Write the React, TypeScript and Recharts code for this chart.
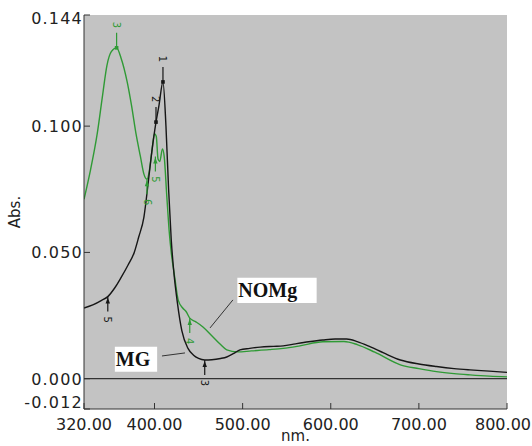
import React from "react";
import {
  ComposedChart,
  Line,
  Scatter,
  XAxis,
  YAxis,
  CartesianGrid,
  ReferenceLine,
  ReferenceArea,
} from "recharts";

document.body.style.margin = "0";

// MG spectrum (black)
const mgNm = [320, 330, 340, 347, 355, 362, 370, 377, 382, 388, 393, 397, 401.7, 405, 409.6, 413, 416, 419, 422, 426, 431, 438, 444, 450, 457, 465, 475, 482, 490, 497, 508, 520, 535, 546, 560, 575, 591, 605, 618, 630, 645, 660, 679, 700, 720, 740, 758, 780, 800];
const mgAbs = [0.028, 0.0292, 0.031, 0.0325, 0.036, 0.04, 0.045, 0.05, 0.056, 0.064, 0.078, 0.09, 0.1016, 0.108, 0.1175, 0.1, 0.075, 0.055, 0.042, 0.03, 0.019, 0.012, 0.0094, 0.008, 0.0074, 0.0075, 0.008, 0.0086, 0.01, 0.0114, 0.012, 0.0125, 0.0128, 0.013, 0.0138, 0.0146, 0.0153, 0.0157, 0.0157, 0.0147, 0.0126, 0.0102, 0.0074, 0.0058, 0.0048, 0.004, 0.0035, 0.003, 0.0025];

// NOMg spectrum (green)
const nomNm = [320, 327, 335, 341, 346, 351, 357, 362, 369, 374, 379, 384, 388, 391.5, 394, 397, 400, 402, 404, 406, 409, 411, 414, 417, 419, 423, 427, 432, 436, 440, 447, 455, 465, 475, 482, 494, 510, 530, 546, 565, 591, 615, 630, 650, 679, 700, 720, 740, 758, 780, 800];
const nomAbs = [0.071, 0.082, 0.097, 0.112, 0.124, 0.1295, 0.131, 0.127, 0.1175, 0.108, 0.097, 0.088, 0.081, 0.079, 0.082, 0.09, 0.097, 0.096, 0.087, 0.086, 0.091, 0.088, 0.072, 0.057, 0.05, 0.04, 0.031, 0.028, 0.0265, 0.024, 0.0225, 0.0205, 0.017, 0.0135, 0.0114, 0.0106, 0.011, 0.0115, 0.012, 0.013, 0.0146, 0.0147, 0.0135, 0.0105, 0.0055, 0.004, 0.0028, 0.002, 0.0015, 0.001, 0.0007];

// peak pick markers
const mgMarkNm = [409.6, 401.7, 347, 457];
const mgMarkAbs = [0.1175, 0.1016, 0.0325, 0.0074];
const mgMarkTag = ["1", "2", "5", "3"];
const mgMarkSide = ["up", "up", "down", "down"];

const nomMarkNm = [357, 391.5, 401, 440];
const nomMarkAbs = [0.131, 0.079, 0.088, 0.024];
const nomMarkTag = ["3", "6", "5", "4"];
const nomMarkSide = ["up", "down", "down", "down"];

const xTicks = [320, 400, 500, 600, 700, 800];
const yTicks = [-0.012, 0, 0.05, 0.1, 0.144];

const mgRows = mgNm.map((nm, i) => ({ nm, abs: mgAbs[i] }));
const nomRows = nomNm.map((nm, i) => ({ nm, abs: nomAbs[i] }));
const mgMarks = mgMarkNm.map((nm, i) => ({ nm, abs: mgMarkAbs[i], tag: mgMarkTag[i], side: mgMarkSide[i] }));
const nomMarks = nomMarkNm.map((nm, i) => ({ nm, abs: nomMarkAbs[i], tag: nomMarkTag[i], side: nomMarkSide[i] }));

const BLACK = "#161616";
const GREEN = "#2f9a35";
const FONT = "DejaVu Sans";

function XTick({ x, y, payload }: any) {
  const v = payload.value;
  const shift = v === 800 ? -4 : 0;
  return (
    <text x={x + shift} y={y} dy={21} textAnchor="middle" fontFamily={FONT} fontSize={16} fill="#222">
      {v.toFixed(2)}
    </text>
  );
}

function YTick({ x, y, payload }: any) {
  const v = payload.value;
  let dy = 6;
  if (v === 0.144) dy = 9;
  if (v === -0.012) dy = -1;
  return (
    <text x={x} y={y} dy={dy} textAnchor="end" fontFamily={FONT} fontSize={16} letterSpacing={1.2} fill="#222">
      {v.toFixed(3)}
    </text>
  );
}

function makeMarker(color: string) {
  return (p: any) => {
    const { cx, cy, payload } = p;
    const s = payload.side === "up" ? -1 : 1;
    return (
      <g>
        <line x1={cx} y1={cy} x2={cx} y2={cy + s * 15} stroke={color} strokeWidth={1.2} />
        {s < 0 ? (
          <rect x={cx - 1.8} y={cy - 1.8} width={3.6} height={3.6} fill={color} />
        ) : (
          <polygon points={`${cx},${cy + 1} ${cx - 2.2},${cy + 7} ${cx + 2.2},${cy + 7}`} fill={color} />
        )}
        <text
          transform={`translate(${cx},${cy + s * 23}) rotate(90)`}
          textAnchor="middle"
          dy="0.35em"
          fontFamily={FONT}
          fontSize={10}
          fill={color}
        >
          {payload.tag}
        </text>
      </g>
    );
  };
}

export default function App() {
  return (
    <ComposedChart width={532} height={446} margin={{ top: 15, right: 25, bottom: 0, left: 0 }}>
      <CartesianGrid fill="#c3c3c3" horizontal={false} vertical={false} />
      <XAxis
        dataKey="nm"
        type="number"
        domain={[320, 800]}
        ticks={xTicks}
        allowDataOverflow
        height={37}
        tickSize={-6}
        tickMargin={6}
        tick={<XTick />}
        stroke="#333"
        label={{
          content: ({ viewBox }: any) => (
            <text x={viewBox.x + viewBox.width / 2} y={441} textAnchor="middle" fontFamily={FONT} fontSize={15} fill="#222">
              nm.
            </text>
          ),
        }}
      />
      <XAxis
        xAxisId="top"
        orientation="top"
        type="number"
        domain={[320, 800]}
        ticks={xTicks}
        allowDataOverflow
        height={0}
        tickSize={-6}
        tick={false}
        stroke="#333"
      />
      <YAxis
        type="number"
        domain={[-0.012, 0.144]}
        ticks={yTicks}
        allowDataOverflow
        width={84}
        tickSize={-6}
        tickMargin={7}
        tick={<YTick />}
        stroke="#333"
        label={{
          content: ({ viewBox }: any) => {
            const cx = 15;
            const cy = viewBox.y + viewBox.height / 2;
            return (
              <text transform={`translate(${cx},${cy}) rotate(-90)`} dy="0.35em" textAnchor="middle" fontFamily={FONT} fontSize={15} fill="#222">
                Abs.
              </text>
            );
          },
        }}
      />
      <YAxis
        yAxisId="right"
        orientation="right"
        type="number"
        domain={[-0.012, 0.144]}
        ticks={yTicks}
        allowDataOverflow
        width={0}
        tickSize={-6}
        tick={false}
        stroke="#333"
      />
      <ReferenceLine y={0} stroke="#333" strokeWidth={1.2} />

      <Line data={nomRows} dataKey="abs" type="monotone" stroke={GREEN} strokeWidth={1.4} dot={false} isAnimationActive={false} />
      <Line data={mgRows} dataKey="abs" type="monotone" stroke={BLACK} strokeWidth={1.4} dot={false} isAnimationActive={false} />
      <Scatter data={nomMarks} dataKey="abs" shape={makeMarker(GREEN)} isAnimationActive={false} />
      <Scatter data={mgMarks} dataKey="abs" shape={makeMarker(BLACK)} isAnimationActive={false} />

      <ReferenceLine segment={[{ x: 489, y: 0.0312 }, { x: 463, y: 0.0201 }]} stroke="#333" strokeWidth={1} />
      <ReferenceLine segment={[{ x: 408.5, y: 0.009 }, { x: 434.6, y: 0.0102 }]} stroke="#333" strokeWidth={1} />
      <ReferenceArea
        x1={494}
        x2={584}
        y1={0.03}
        y2={0.04}
        fill="#ffffff"
        fillOpacity={1}
        label={{ value: "NOMg", position: "insideLeft", offset: 1, fill: "#111", fontSize: 20, fontWeight: "bold", fontFamily: "Liberation Serif" }}
      />
      <ReferenceArea
        x1={355}
        x2={403}
        y1={0.0027}
        y2={0.0126}
        fill="#ffffff"
        fillOpacity={1}
        label={{ value: "MG", position: "insideLeft", offset: 1, fill: "#111", fontSize: 20, fontWeight: "bold", fontFamily: "Liberation Serif" }}
      />
    </ComposedChart>
  );
}
